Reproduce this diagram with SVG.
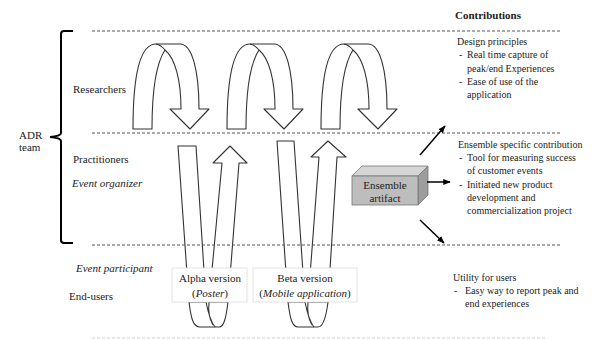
<svg xmlns="http://www.w3.org/2000/svg" xmlns:xlink="http://www.w3.org/1999/xlink" width="602" height="339" viewBox="0 0 602 339" font-family="'Liberation Serif', 'DejaVu Serif', serif">
<defs>
<style>
text{font-family:'Liberation Serif','DejaVu Serif',serif;fill:#222}
.t{font-size:11px}
.r{font-size:10px}
.i{font-style:italic}
.b{font-weight:bold}
.dash{stroke:#555;stroke-width:1;stroke-dasharray:3,2;fill:none}
.arr{fill:#fff;stroke:#333;stroke-width:1.1;stroke-linejoin:round}
.ln{fill:none;stroke:#333;stroke-width:1.1}
.con{stroke:#000;stroke-width:1.5;fill:none;marker-end:url(#ah)}
.lbl{fill:#fff;stroke:#ddd;stroke-width:0.8}
</style>
<marker id="ah" viewBox="0 0 10 10" refX="9" refY="5" markerWidth="5" markerHeight="5" orient="auto">
<path d="M0,1 L10,5 L0,9 Z" fill="#000"/>
</marker>
<g id="uturn">
<path class="arr" d="M0,129 C0,75 7,44 23,44 L47,44 C59,44 66,70 66,109 L76,109 L57,129 L37,109 L48,109 C48,80 42,58 32,50 C24,62 19,90 19,129 Z"/>
<path class="ln" d="M32,50 Q28,45 23,44"/>
</g>
</defs>
<rect width="602" height="339" fill="#fff"/>

<g id="bracket">
<path d="M73,31 L64,31 Q61,31 61,34 L61,133 Q61,136 50,137 Q61,138 61,141 L61,240 Q61,243 64,243 L73,243" fill="none" stroke="#000" stroke-width="2"/>
<text class="t" x="19" y="139">ADR</text>
<text class="t" x="19" y="151">team</text>
</g>

<g id="lane-labels">
<text class="t" x="73" y="93">Researchers</text>
<text class="t" x="73" y="163">Practitioners</text>
<text class="t i" x="72" y="187">Event organizer</text>
<text class="t i" x="76" y="272">Event participant</text>
<text class="t" x="69" y="300">End-users</text>
</g>

<g id="cycle-1"><use xlink:href="#uturn" href="#uturn" x="133" y="0"/></g>
<g id="cycle-2"><use xlink:href="#uturn" href="#uturn" x="227" y="0"/></g>
<g id="cycle-3"><use xlink:href="#uturn" href="#uturn" x="321" y="0"/></g>

<g id="alpha-loop">
<path class="arr" d="M178,146 L196,146 L206,302 L189,302 Z"/>
<path class="arr" d="M222,163 L213,163 L230,146 L247,163 L239,163 L228,302 L209,302 Z"/>
<path class="ln" d="M189,302 C191,318 193,327 200,327 L219,327 C224,327 226,318 228,302"/>
<path class="ln" d="M206,302 C208,312 211,322 215,327 M209,302 C208,312 210,320 213,325"/>
</g>

<g id="beta-loop">
<path class="arr" d="M277,141 L294,141 L305,302 L288,302 Z"/>
<path class="arr" d="M319,157 L311,157 L328,141 L346,157 L337,157 L328,302 L308,302 Z"/>
<path class="ln" d="M288,302 C290,318 292,327 298,327 L318,327 C323,327 326,318 328,302"/>
<path class="ln" d="M305,302 C307,312 310,322 314,327 M308,302 C307,312 309,320 312,325"/>
</g>

<g id="lanes">
<line class="dash" x1="92" y1="31" x2="562" y2="31"/>
<line class="dash" x1="92" y1="133" x2="562" y2="133"/>
<line class="dash" x1="92" y1="245" x2="562" y2="245"/>
<line x1="92" y1="338" x2="547" y2="338" stroke="#ccc" stroke-width="1" stroke-dasharray="3,2"/>
</g>

<g id="alpha">
<rect class="lbl" x="172" y="268" width="75" height="34"/>
<text class="t" x="210" y="282" text-anchor="middle">Alpha version</text>
<text class="t" x="210" y="297" text-anchor="middle">(<tspan class="i">Poster</tspan>)</text>
</g>

<g id="beta">
<rect class="lbl" x="253" y="268" width="104" height="34"/>
<text class="t" x="305" y="282" text-anchor="middle">Beta version</text>
<text class="t" x="305" y="297" text-anchor="middle">(<tspan class="i">Mobile application</tspan>)</text>
</g>

<g id="ensemble">
<polygon points="352,176 362,166 428,166 418,176" fill="#d6d6d6" stroke="#777" stroke-width="0.8"/>
<polygon points="418,176 428,166 428,195 418,205" fill="#9d9d9d" stroke="#777" stroke-width="0.8"/>
<rect x="352" y="176" width="66" height="29" fill="#bdbdbd" stroke="#777" stroke-width="0.8"/>
<text class="t" x="385" y="189" text-anchor="middle">Ensemble</text>
<text class="t" x="385" y="202" text-anchor="middle">artifact</text>
</g>

<g id="connectors">
<line class="con" x1="420" y1="155" x2="445" y2="126"/>
<line class="con" x1="427" y1="182" x2="450" y2="182"/>
<line class="con" x1="420" y1="220" x2="444" y2="243"/>
</g>

<g id="contributions">
<text class="t b" x="455" y="19">Contributions</text>
<text class="r" x="457" y="45">Design principles</text>
<text class="r" x="459" y="58">-</text><text class="r" x="467" y="58">Real time capture of</text>
<text class="r" x="467" y="72">peak/end Experiences</text>
<text class="r" x="459" y="85">-</text><text class="r" x="467" y="85">Ease  of use of the</text>
<text class="r" x="467" y="98">application</text>
</g>

<g id="ensemble-contribution">
<text class="r" x="458" y="148">Ensemble specific contribution</text>
<text class="r" x="459" y="161">-</text><text class="r" x="467" y="161">Tool for measuring success</text>
<text class="r" x="467" y="174">of customer events</text>
<text class="r" x="459" y="188">-</text><text class="r" x="467" y="188">Initiated new product</text>
<text class="r" x="467" y="201">development and</text>
<text class="r" x="467" y="214">commercialization project</text>
</g>

<g id="utility">
<text class="r" x="453" y="281">Utility for users</text>
<text class="r" x="454" y="294">-</text><text class="r" x="465" y="294">Easy way to report peak and</text>
<text class="r" x="465" y="307">end experiences</text>
</g>
</svg>
